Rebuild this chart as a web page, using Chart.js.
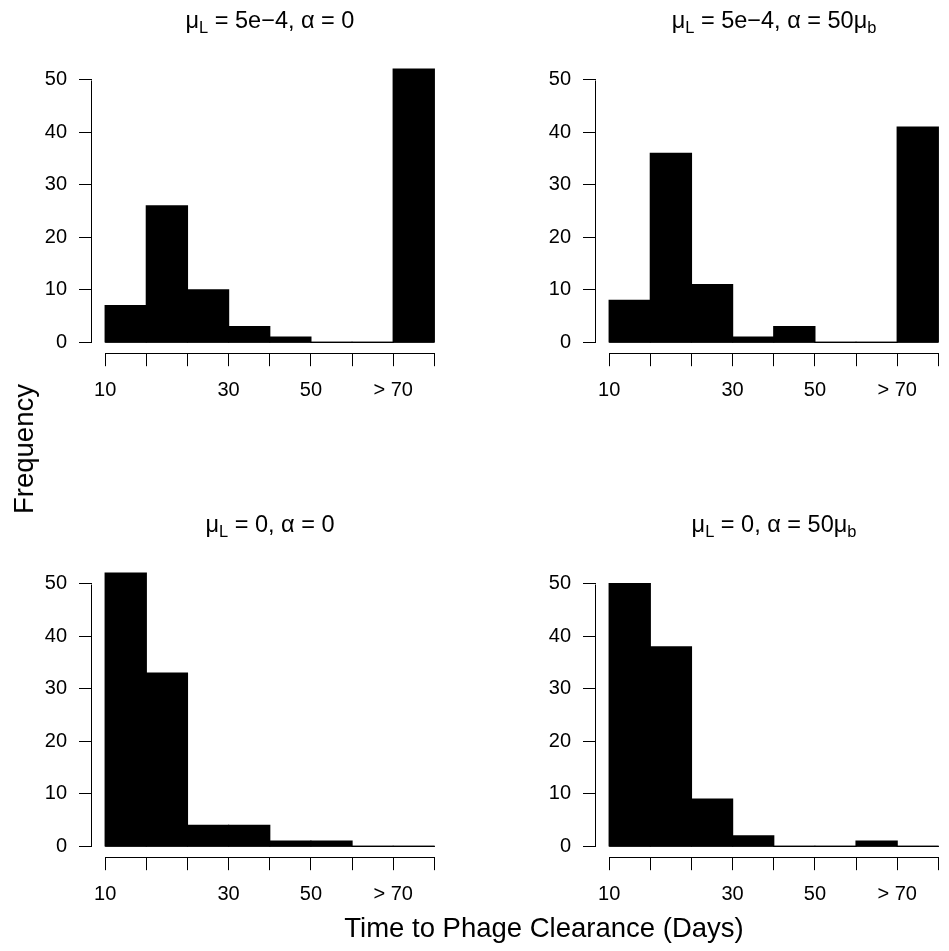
<!DOCTYPE html>
<html>
<head>
<meta charset="utf-8">
<script src="https://cdn.jsdelivr.net/npm/chart.js@4.4.1/dist/chart.umd.min.js"></script>
<style>
  html, body { margin:0; padding:0; background:#fff; }
  body { width:949px; height:951px; overflow:hidden; position:relative;
         font-family:"Liberation Sans", Arial, Helvetica, sans-serif; color:#000; }
  canvas { position:absolute; }
  .ttl { position:absolute; width:356px; text-align:center; font-size:23.5px; line-height:24px; white-space:nowrap; }
  .ttl .s { font-size:70%; position:relative; top:0.3em; }
  .lab { position:absolute; font-size:27.5px; line-height:30px; white-space:nowrap; }
</style>
</head>
<body>
<script>
// ---- data ----
const binLabels   = ['10','','','30','','50','','> 70',''];   // labels at the 9 bin edges
const yTicks      = [0, 10, 20, 30, 40, 50];
const countsA     = [7, 26, 10, 3, 1, 0, 0, 52];   // mu_L = 5e-4, alpha = 0
const countsB     = [8, 36, 11, 1, 3, 0, 0, 41];   // mu_L = 5e-4, alpha = 50 mu_b
const countsC     = [52, 33, 4, 4, 1, 1, 0, 0];    // mu_L = 0, alpha = 0
const countsD     = [50, 38, 9, 2, 0, 0, 1, 0];    // mu_L = 0, alpha = 50 mu_b
const titles      = [
  'μ<span class="s">L</span> = 5e−4, α = 0',
  'μ<span class="s">L</span> = 5e−4, α = 50μ<span class="s">b</span>',
  'μ<span class="s">L</span> = 0, α = 0',
  'μ<span class="s">L</span> = 0, α = 50μ<span class="s">b</span>'
];
const xLabel = 'Time to Phage Clearance (Days)';
const yLabel = 'Frequency';

// ---- layout ----
const FONT = '"Liberation Sans", Arial, Helvetica, sans-serif';
const CW = 450, CH = 440;
const panels = [
  {left:0,   top:0,     counts:countsA, title:titles[0]},
  {left:504, top:0,     counts:countsB, title:titles[1]},
  {left:0,   top:503.6, counts:countsC, title:titles[2]},
  {left:504, top:503.6, counts:countsD, title:titles[3]}
];
const AREA_TOP = 58.3, AREA_BOTTOM = 353.2, AREA_LEFT = 92, AREA_RIGHT = 447.5;

const axisLines = {
  id:'axisLines',
  afterDraw(chart){
    const {ctx, chartArea, scales:{x, y}} = chart;
    ctx.save();
    ctx.strokeStyle = '#000';
    ctx.lineWidth = 1;
    ctx.beginPath();
    const lx = Math.round(chartArea.left) - 0.5;
    ctx.moveTo(lx, Math.round(y.getPixelForValue(yTicks[0])) + 0.5);
    ctx.lineTo(lx, Math.round(y.getPixelForValue(yTicks[yTicks.length-1])) + 0.5);
    const by = Math.round(chartArea.bottom) + 0.5;
    ctx.moveTo(Math.round(x.getPixelForValue(0)) + 0.5, by);
    ctx.lineTo(Math.round(x.getPixelForValue(binLabels.length - 1)) + 0.5, by);
    ctx.stroke();
    ctx.restore();
  }
};

panels.forEach((p, k) => {
  const cv = document.createElement('canvas');
  cv.width = CW; cv.height = CH;
  cv.style.left = p.left + 'px'; cv.style.top = p.top + 'px';
  cv.style.width = CW + 'px'; cv.style.height = CH + 'px';
  document.body.appendChild(cv);

  const t = document.createElement('div');
  t.className = 'ttl';
  t.innerHTML = p.title;
  t.style.left = (p.left + AREA_LEFT) + 'px';
  t.style.top = (p.top + 8) + 'px';
  document.body.appendChild(t);

  const nb = p.counts.length;
  new Chart(cv, {
    type:'bar',
    data:{
      datasets:[
        { type:'bar', data:p.counts.map((v,i)=>({x:i+0.5, y:v})),
          backgroundColor:'#000', borderWidth:0, inflateAmount:0.6,
          barPercentage:1, categoryPercentage:1, order:1 },
        { type:'line', data:[{x:0,y:0},{x:nb,y:0}],
          borderColor:'#000', borderWidth:1, pointRadius:0, fill:false, order:0 }
      ]
    },
    options:{
      responsive:false, animation:false, devicePixelRatio:1,
      layout:{padding:{top:AREA_TOP, left:0, right:CW-AREA_RIGHT, bottom:0}},
      plugins:{legend:{display:false}, tooltip:{enabled:false}, title:{display:false}},
      scales:{
        x:{
          type:'linear', min:-0.04*nb, max:nb*1.04, offset:false,
          afterBuildTicks:s=>{ s.ticks = binLabels.map((_,i)=>({value:i})); },
          afterFit:s=>{ s.height = CH - AREA_BOTTOM; },
          ticks:{ callback:(v,i)=>binLabels[i], autoSkip:false, maxRotation:0, minRotation:0,
                  color:'#000', font:{family:FONT, size:20}, padding:12 },
          grid:{ offset:false, drawOnChartArea:false, drawTicks:true, tickLength:13, color:'#000', lineWidth:1 },
          border:{display:false}
        },
        y:{
          type:'linear', min:-2.08, max:54.08,
          afterBuildTicks:s=>{ s.ticks = yTicks.map(v=>({value:v})); },
          afterFit:s=>{ s.width = AREA_LEFT; },
          ticks:{ color:'#000', font:{family:FONT, size:20}, padding:12 },
          grid:{ offset:false, drawOnChartArea:false, drawTicks:true, tickLength:13, color:'#000', lineWidth:1 },
          border:{display:false}
        }
      }
    },
    plugins:[axisLines]
  });
});

const xl = document.createElement('div');
xl.className = 'lab'; xl.textContent = xLabel;
xl.style.left = '544px'; xl.style.top = '928px';
xl.style.transform = 'translate(-50%,-50%)';
document.body.appendChild(xl);

const yl = document.createElement('div');
yl.className = 'lab'; yl.textContent = yLabel;
yl.style.left = '24px'; yl.style.top = '449px';
yl.style.transform = 'translate(-50%,-50%) rotate(-90deg)';
document.body.appendChild(yl);
</script>
</body>
</html>
